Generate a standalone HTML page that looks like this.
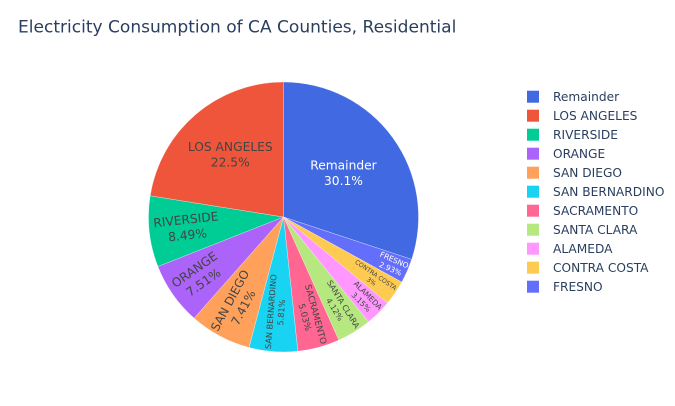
<!DOCTYPE html>
<html lang="en">
<head>
<meta charset="utf-8">
<title>Electricity Consumption of CA Counties, Residential</title>
<style>
html, body { margin: 0; padding: 0; background: #fff; }
#chart { display: block; width: 675px; height: 406px; }
text { font-family: "DejaVu Sans", "Liberation Sans", sans-serif; }
</style>
</head>
<body>
<svg id="chart" xmlns="http://www.w3.org/2000/svg" width="675" height="406" viewBox="0 0 675 406">
  <rect width="675" height="406" fill="#ffffff"></rect>
  <text x="18" y="32.5" font-size="17.05" fill="#2a3f5f">Electricity Consumption of CA Counties, Residential</text>
  <g id="slices"></g>
  <g id="labels"></g>
  <g id="legend"></g>
</svg>
<script>
const categories = ["Remainder", "LOS ANGELES", "RIVERSIDE", "ORANGE", "SAN DIEGO", "SAN BERNARDINO", "SACRAMENTO", "SANTA CLARA", "ALAMEDA", "CONTRA COSTA", "FRESNO"];
const values = [30.1, 22.5, 8.49, 7.51, 7.41, 5.81, 5.03, 4.12, 3.15, 3, 2.93];
const colors = ["#4169E1", "#EF553B", "#00CC96", "#AB63FA", "#FFA15A", "#19D3F3", "#FF6692", "#B6E880", "#FF97FF", "#FECB52", "#636EFA"];

const NS = "http://www.w3.org/2000/svg";
const CX = 283.5, CY = 217, R = 135, TEXTPAD = 3;
const slicesG = document.getElementById("slices");
const labelsG = document.getElementById("labels");
const legendG = document.getElementById("legend");
const total = values.reduce(function (a, b) { return a + b; }, 0);

function slug(s) {
  return s.toLowerCase().replace(/\s+/g, "-");
}
function pointAt(angle, r) {
  return [CX + r * Math.sin(angle), CY - r * Math.cos(angle)];
}
function formatPercent(v) {
  return parseFloat((v / total * 100).toPrecision(3)) + "%";
}
function luminance(hex) {
  const n = parseInt(hex.slice(1), 16);
  return (0.299 * (n >> 16 & 255) + 0.587 * (n >> 8 & 255) + 0.114 * (n & 255)) / 255;
}
function calcMaxHalfSize(a, halfAngle, r) {
  const q = a + 1 / (2 * Math.tan(halfAngle));
  return r * Math.min(1 / (Math.sqrt(q * q + 0.5) + q), 1 / (Math.sqrt(a * a + 0.5) + a));
}

// Slices run clockwise from 12 o'clock: first category, then the rest in reverse order.
const drawOrder = [0];
for (let i = categories.length - 1; i > 0; i--) drawOrder.push(i);

let cursor = 0;
drawOrder.forEach(function (i) {
  const start = cursor;
  const sweep = values[i] / total * 2 * Math.PI;
  const stop = start + sweep;
  cursor = stop;
  const mid = (start + stop) / 2;
  const half = sweep / 2;

  const p0 = pointAt(start, R);
  const p1 = pointAt(stop, R);
  const path = document.createElementNS(NS, "path");
  path.setAttribute("d", "M" + CX + "," + CY + "L" + p0[0] + "," + p0[1] + "A" + R + "," + R + " 0 " + (sweep > Math.PI ? 1 : 0) + " 1 " + p1[0] + "," + p1[1] + "Z");
  path.setAttribute("fill", colors[i]);
  path.setAttribute("stroke", "#ffffff");
  path.setAttribute("stroke-width", "0.3");
  
  
  slicesG.appendChild(path);

  const text = document.createElementNS(NS, "text");
  text.setAttribute("font-size", "12.25");
  text.setAttribute("text-anchor", "middle");
  text.setAttribute("fill", luminance(colors[i]) < 0.5 ? "#ffffff" : "#444444");
  
  
  const line1 = document.createElementNS(NS, "tspan");
  line1.setAttribute("x", "0");
  line1.setAttribute("y", "0");
  line1.textContent = categories[i];
  const line2 = document.createElementNS(NS, "tspan");
  line2.setAttribute("x", "0");
  line2.setAttribute("y", "15.6");
  line2.textContent = formatPercent(values[i]);
  text.appendChild(line1);
  text.appendChild(line2);
  labelsG.appendChild(text);

  const bb = text.getBBox();
  const w = bb.width, h = bb.height;
  const diameter = Math.sqrt(w * w + h * h);
  const inscribed = Math.min(1 / (1 + 1 / Math.sin(half)), 0.5);
  let scale, rCenter, rotate;
  if (half < Math.PI / 2 && inscribed * R * 2 / diameter >= 1) {
    scale = 1;
    rCenter = 1 - inscribed;
    rotate = 0;
  } else {
    const rr = Math.max(0, R - 2 * TEXTPAD);
    const a = w / h;
    const s = calcMaxHalfSize(a, half, rr);
    scale = Math.min(1, s * 2 / h);
    rCenter = Math.cos(s / rr) - a * s / rr;
    rotate = (mid * 180 / Math.PI + 720) % 180 - 90;
  }
  const c = pointAt(mid, rCenter * R);
  text.setAttribute("transform",
    "translate(" + c[0] + "," + c[1] + ") rotate(" + rotate + ") scale(" + scale + ") translate(" + (-(bb.x + w / 2)) + "," + (-(bb.y + h / 2)) + ")");
});

categories.forEach(function (name, i) {
  const rowY = 96.7 + i * 19;
  const row = document.createElementNS(NS, "g");
  
  
  const swatch = document.createElementNS(NS, "rect");
  swatch.setAttribute("x", "527");
  swatch.setAttribute("y", rowY - 6);
  swatch.setAttribute("width", "12");
  swatch.setAttribute("height", "12");
  swatch.setAttribute("fill", colors[i]);
  
  
  const label = document.createElementNS(NS, "text");
  label.setAttribute("x", "553");
  label.setAttribute("y", rowY + 4.2);
  label.setAttribute("font-size", "12.2");
  label.setAttribute("fill", "#2a3f5f");
  
  
  label.textContent = name;
  row.appendChild(swatch);
  row.appendChild(label);
  legendG.appendChild(row);
});
</script>
</body>
</html>
